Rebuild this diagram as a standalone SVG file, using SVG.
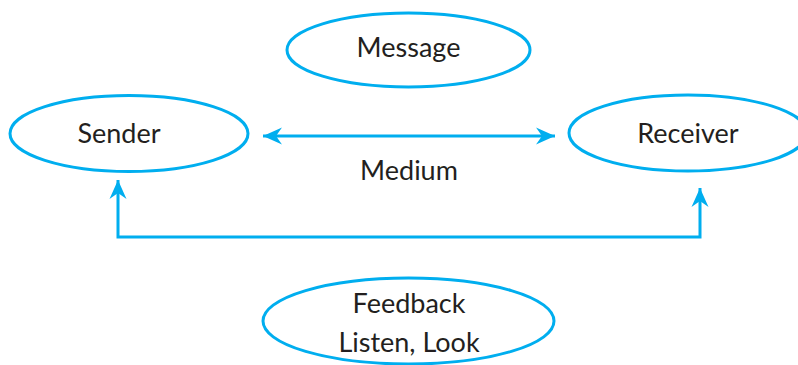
<svg xmlns="http://www.w3.org/2000/svg" width="798" height="365" viewBox="0 0 798 365">
  <style>
    .node { fill: #ffffff; stroke: #00aeef; stroke-width: 3; }
    .lbl { font-family: Lato, "Open Sans", sans-serif; font-size: 27px; fill: #231f20; text-anchor: middle; }
    .conn { fill: none; stroke: #00aeef; stroke-width: 3; }
  </style>
  <defs>
    <marker id="arr" markerUnits="userSpaceOnUse" markerWidth="20" markerHeight="18" viewBox="-19 -9 20 18" refX="0" refY="0" orient="auto-start-reverse">
      <path d="M0,0 L-19,-8.5 L-13,0 L-19,8.5 Z" fill="#00aeef"/>
    </marker>
  </defs>
  <rect width="798" height="365" fill="#ffffff"/>
  <g id="connectors">
    <line class="conn" x1="263" y1="136" x2="555" y2="136" marker-start="url(#arr)" marker-end="url(#arr)"/>
    <polyline class="conn" points="118,180 118,237 700,237 700,188" marker-start="url(#arr)" marker-end="url(#arr)"/>
  </g>
  <g id="message">
    <ellipse class="node" cx="408.5" cy="50" rx="121.5" ry="37"/>
    <text class="lbl" x="408.5" y="57">Message</text>
  </g>
  <g id="sender">
    <ellipse class="node" cx="129" cy="133.5" rx="119" ry="38"/>
    <text class="lbl" x="119" y="143">Sender</text>
  </g>
  <g id="receiver">
    <ellipse class="node" cx="688" cy="133" rx="119" ry="38"/>
    <text class="lbl" x="688" y="143">Receiver</text>
  </g>
  <g id="medium">
    <text class="lbl" x="409" y="180">Medium</text>
  </g>
  <g id="feedback">
    <ellipse class="node" cx="408.5" cy="321" rx="145.5" ry="43"/>
    <text class="lbl" x="409" y="313">Feedback</text>
    <text class="lbl" x="409" y="352">Listen, Look</text>
  </g>
</svg>
